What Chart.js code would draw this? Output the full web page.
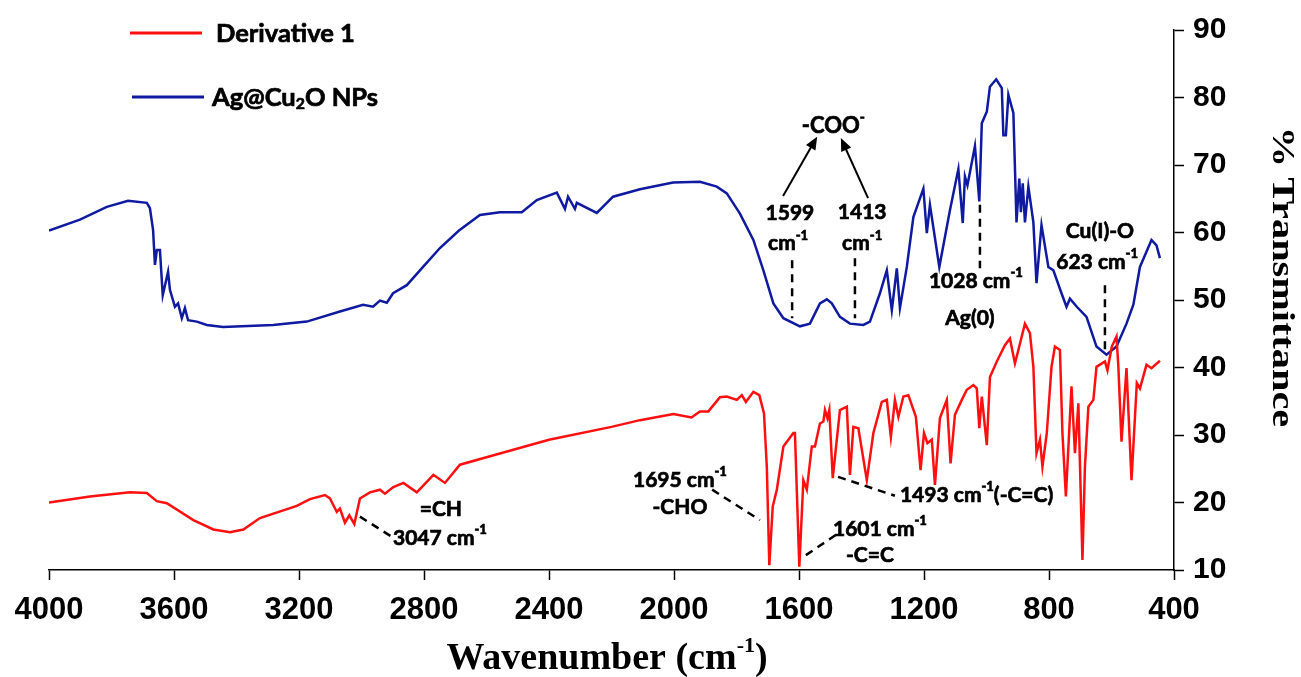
<!DOCTYPE html>
<html>
<head>
<meta charset="utf-8">
<script src="https://cdn.jsdelivr.net/npm/chart.js@4.4.1/dist/chart.umd.min.js"></script>
<style>
  html, body { margin: 0; padding: 0; background: #fff; }
  #wrap { width: 1301px; height: 677px; }
</style>
</head>
<body>
<div id="wrap"><canvas id="ftir" width="1301" height="677"></canvas></div>
<script>
// FTIR spectra, wavenumber (cm-1) vs % transmittance
const agWavenumber = [4000, 3901, 3815, 3747, 3687, 3677, 3667, 3661, 3655, 3645, 3636, 3619, 3613, 3597, 3587, 3575, 3565, 3555, 3527, 3495,
  3443, 3283, 3175, 3069, 2995, 2963, 2941, 2919, 2899, 2855, 2803, 2749, 2688, 2621, 2557, 2487, 2439, 2375, 2349, 2339,
  2317, 2311, 2247, 2195, 2109, 2003, 1917, 1863, 1831, 1789, 1746, 1714, 1682, 1650, 1597, 1565, 1533, 1511, 1495, 1469,
  1437, 1394, 1373, 1341, 1319, 1303, 1287, 1277, 1255, 1234, 1202, 1191, 1181, 1151, 1117, 1090, 1076, 1069, 1061, 1037,
  1023, 1015, 999, 989, 969, 951, 946, 938, 930, 914, 904, 895, 890, 884, 877, 866, 850, 840, 824, 802,
  786, 760, 744, 733, 711, 680, 648, 616, 584, 552, 530, 509, 472, 456, 445];
const agTransmittance = [60.3, 61.9, 63.8, 64.7, 64.4, 63.6, 60.4, 55.2, 57.4, 57.4, 50.7, 54.2, 51.5, 49.0, 49.5, 47.3, 48.8, 47.0, 46.8, 46.3,
  46.0, 46.3, 46.8, 48.3, 49.3, 49.0, 49.9, 49.6, 51.0, 52.2, 54.9, 57.7, 60.3, 62.6, 63.0, 63.0, 64.8, 65.9, 63.5, 65.3,
  63.5, 64.4, 62.9, 65.3, 66.4, 67.4, 67.5, 66.8, 65.8, 62.8, 58.9, 54.4, 49.5, 47.3, 46.1, 46.5, 49.5, 50.1, 49.5, 47.5,
  46.5, 46.3, 46.8, 51.0, 54.4, 48.5, 54.7, 48.8, 54.9, 62.3, 66.5, 59.9, 64.1, 54.9, 63.3, 69.4, 61.4, 68.3, 67.0, 72.8,
  64.6, 76.2, 77.9, 81.6, 82.7, 81.4, 74.4, 74.4, 80.4, 77.7, 61.5, 68.0, 63.0, 67.3, 61.5, 66.8, 61.5, 52.5, 61.1, 54.9,
  54.4, 51.0, 49.0, 50.2, 49.0, 47.5, 43.1, 41.9, 43.1, 46.5, 49.3, 54.9, 58.9, 58.1, 56.2];

const derivWavenumber = [4000, 3869, 3741, 3687, 3655, 3623, 3538, 3474, 3421, 3378, 3325, 3207, 3165, 3117, 3101, 3079, 3069, 3053, 3039, 3023,
  3005, 2973, 2941, 2925, 2898, 2866, 2823, 2770, 2733, 2685, 2600, 2400, 2200, 2109, 2002, 1944, 1917, 1890, 1853, 1831,
  1799, 1783, 1770, 1746, 1727, 1712, 1703, 1695, 1684, 1671, 1650, 1618, 1613, 1599, 1586, 1575, 1559, 1549, 1533, 1522,
  1517, 1509, 1503, 1492, 1469, 1447, 1437, 1426, 1410, 1383, 1362, 1335, 1319, 1306, 1293, 1282, 1266, 1250, 1226, 1211,
  1200, 1189, 1175, 1165, 1149, 1127, 1115, 1101, 1079, 1063, 1042, 1031, 1023, 1015, 999, 989, 967, 941, 925, 909,
  898, 877, 861, 850, 840, 829, 821, 807, 792, 781, 765, 757, 746, 728, 717, 706, 693, 685, 674, 658,
  648, 621, 613, 599, 584, 578, 568, 552, 536, 519, 509, 488, 472, 445];
const derivTransmittance = [20.0, 20.9, 21.5, 21.4, 20.2, 19.9, 17.4, 16.0, 15.6, 16.0, 17.7, 19.5, 20.5, 21.1, 20.6, 18.6, 19.1, 17.0, 18.1, 16.8,
  20.6, 21.5, 21.9, 21.3, 22.3, 22.9, 21.5, 24.1, 22.9, 25.6, 26.7, 29.3, 31.2, 32.2, 33.1, 32.6, 33.5, 33.5, 35.6, 35.7,
  35.2, 35.9, 34.9, 36.4, 35.9, 33.2, 25.3, 10.7, 19.4, 21.9, 28.3, 30.3, 30.3, 10.5, 23.3, 21.9, 28.3, 28.3, 31.7, 32.0,
  33.7, 32.5, 33.7, 23.6, 33.7, 34.2, 24.1, 31.2, 31.0, 23.3, 30.3, 34.9, 35.2, 29.7, 35.2, 32.7, 35.7, 35.9, 32.7, 24.8,
  30.3, 28.8, 29.3, 22.6, 32.5, 35.2, 25.8, 33.0, 35.2, 36.7, 37.4, 36.9, 31.0, 35.7, 28.5, 38.6, 40.9, 43.3, 44.3, 40.6,
  42.6, 46.5, 45.1, 40.1, 27.3, 29.3, 25.3, 30.3, 40.1, 43.1, 42.6, 30.3, 20.9, 37.2, 27.3, 34.7, 11.5, 25.3, 34.2, 35.2,
  40.1, 40.9, 39.6, 43.1, 44.6, 40.1, 29.0, 39.9, 23.3, 37.7, 36.9, 40.4, 39.9, 41.0];

const seriesNames = ['Derivative 1', 'Ag@Cu₂O NPs'];
const xTicks = [4000, 3600, 3200, 2800, 2400, 2000, 1600, 1200, 800, 400];
const yTicks = [10, 20, 30, 40, 50, 60, 70, 80, 90];

// peak labels, placed in data units (wavenumber, %T); parts: [text, 'sup'|'sub'|undefined]
const peakLabels = [
  { x: 1490, y: 75.8, parts: [['-COO'], ['-', 'sup']], size: 22 },
  { x: 1629, y: 62.9, parts: [['1599']] },
  { x: 1635, y: 58.4, parts: [['cm'], ['-1', 'sup']] },
  { x: 1398, y: 63.0, parts: [['1413']] },
  { x: 1398, y: 58.4, parts: [['cm'], ['-1', 'sup']] },
  { x: 1034, y: 52.8, parts: [['1028 cm'], ['-1', 'sup']] },
  { x: 1053, y: 47.3, parts: [['Ag(0)']] },
  { x: 637, y: 60.2, parts: [['Cu(I)-O']] },
  { x: 646, y: 55.6, parts: [['623 cm'], ['-1', 'sup']] },
  { x: 2746, y: 19.0, parts: [['=CH']] },
  { x: 2749, y: 14.7, parts: [['3047 cm'], ['-1', 'sup']] },
  { x: 1981, y: 23.3, parts: [['1695 cm'], ['-1', 'sup']] },
  { x: 1981, y: 19.3, parts: [['-CHO']] },
  { x: 1341, y: 16.1, parts: [['1601 cm'], ['-1', 'sup']] },
  { x: 1373, y: 12.2, parts: [['-C=C']] },
  { x: 1277, y: 21.1, parts: [['1493 cm'], ['-1', 'sup'], ['(-C=C)']], align: 'left' }
];
// dashed leader lines [x1, y1, x2, y2] in data units
const leaders = [
  [1622, 55.9, 1622, 47.3], [1421, 56.2, 1421, 47.3], [1021, 64.1, 1021, 54.7], [621, 52.2, 621, 42.6],
  [3005, 17.9, 2902, 14.9], [1878, 21.9, 1725, 17.4], [1578, 12.2, 1482, 15.2], [1475, 23.8, 1293, 21.0]
];
const arrows = [[1651, 65.4, 1542, 74.2], [1379, 65.1, 1466, 74.0]];

const toPoints = (xs, ys) => xs.map((x, i) => ({ x: x, y: ys[i] }));

const labelFont = '"Lato", "Open Sans", sans-serif';
const serif = '"Liberation Serif", "Times New Roman", serif';

function drawRich(ctx, parts, x, y, size, align) {
  const widths = parts.map(p => {
    const s = p[1] ? size * 0.62 : size;
    ctx.font = 'bold ' + s + 'px ' + labelFont;
    return ctx.measureText(p[0]).width;
  });
  const total = widths.reduce((a, b) => a + b, 0);
  let cx = align === 'left' ? x : x - total / 2;
  ctx.textAlign = 'left';
  ctx.textBaseline = 'middle';
  ctx.lineWidth = 0.7;
  ctx.strokeStyle = ctx.fillStyle;
  parts.forEach((p, i) => {
    const s = p[1] ? size * 0.62 : size;
    let dy = 0;
    if (p[1] === 'sup') dy = -size * 0.38;
    if (p[1] === 'sub') dy = size * 0.22;
    ctx.font = 'bold ' + s + 'px ' + labelFont;
    ctx.fillText(p[0], cx, y + dy);
    ctx.strokeText(p[0], cx, y + dy); // thicken a little, the original uses a heavy bold face
    cx += widths[i];
  });
}

const annotationPlugin = {
  id: 'ftirNotes',
  afterDatasetsDraw(chart) {
    const ctx = chart.ctx;
    const xs = chart.scales.x, ys = chart.scales.y;
    const px = v => xs.getPixelForValue(v), py = v => ys.getPixelForValue(v);
    ctx.save();
    ctx.fillStyle = '#000';
    ctx.strokeStyle = '#000';

    // dashed leaders
    ctx.lineWidth = 2.5;
    ctx.setLineDash([8, 6]);
    leaders.forEach(l => {
      ctx.beginPath();
      ctx.moveTo(px(l[0]), py(l[1]));
      ctx.lineTo(px(l[2]), py(l[3]));
      ctx.stroke();
    });
    ctx.setLineDash([]);

    // arrows to -COO-
    ctx.lineWidth = 2;
    arrows.forEach(a => {
      const x1 = px(a[0]), y1 = py(a[1]), x2 = px(a[2]), y2 = py(a[3]);
      const ang = Math.atan2(y2 - y1, x2 - x1);
      ctx.beginPath();
      ctx.moveTo(x1, y1);
      ctx.lineTo(x2 - 6 * Math.cos(ang), y2 - 6 * Math.sin(ang));
      ctx.stroke();
      ctx.beginPath();
      ctx.moveTo(x2, y2);
      ctx.lineTo(x2 - 14 * Math.cos(ang - 0.4), y2 - 14 * Math.sin(ang - 0.4));
      ctx.lineTo(x2 - 14 * Math.cos(ang + 0.4), y2 - 14 * Math.sin(ang + 0.4));
      ctx.closePath();
      ctx.fill();
    });

    peakLabels.forEach(l => drawRich(ctx, l.parts, px(l.x), py(l.y), l.size || 21, l.align));

    // legend
    const legendRows = [
      { y: 33, label: [['Derivative 1']], ds: 0, x0: 130, tx: 216 },
      { y: 97, label: [['Ag@Cu'], ['2', 'sub'], ['O NPs']], ds: 1, x0: 132, tx: 212 }
    ];
    legendRows.forEach(r => {
      ctx.strokeStyle = chart.data.datasets[r.ds].borderColor;
      ctx.lineWidth = 3;
      ctx.beginPath();
      ctx.moveTo(r.x0, r.y);
      ctx.lineTo(r.x0 + 72, r.y);
      ctx.stroke();
      ctx.fillStyle = '#000';
      drawRich(ctx, r.label, r.tx, r.y + 1, 25.5, 'left');
    });

    // x-axis title with superscript
    ctx.fillStyle = '#000';
    ctx.textBaseline = 'alphabetic';
    ctx.textAlign = 'left';
    const main = 'Wavenumber (cm', sup = '-1', end = ')';
    ctx.font = 'bold 38px ' + serif;
    const w1 = ctx.measureText(main).width, w3 = ctx.measureText(end).width;
    ctx.font = 'bold 22px ' + serif;
    const w2 = ctx.measureText(sup).width;
    let tx = 607 - (w1 + w2 + w3) / 2;
    const ty = 669;
    ctx.font = 'bold 38px ' + serif;
    ctx.fillText(main, tx, ty);
    ctx.font = 'bold 22px ' + serif;
    ctx.fillText(sup, tx + w1, ty - 17);
    ctx.font = 'bold 38px ' + serif;
    ctx.fillText(end, tx + w1 + w2, ty);

    // y-axis title, stretched along its length like the original figure
    ctx.save();
    ctx.translate(1281, 277);
    ctx.rotate(Math.PI / 2);
    ctx.scale(1.3, 1);
    ctx.font = 'bold 31px ' + serif;
    ctx.textAlign = 'center';
    ctx.textBaseline = 'middle';
    ctx.fillText('% Transmittance', 0, 0);
    ctx.restore();
    ctx.restore();
  }
};

new Chart(document.getElementById('ftir').getContext('2d'), {
  type: 'line',
  data: {
    datasets: [
      {
        label: seriesNames[0],
        data: toPoints(derivWavenumber, derivTransmittance),
        borderColor: '#ff1010',
        borderWidth: 2.5,
        pointRadius: 0,
        tension: 0,
        fill: false
      },
      {
        label: seriesNames[1],
        data: toPoints(agWavenumber, agTransmittance),
        borderColor: '#0f1aa0',
        borderWidth: 2.5,
        pointRadius: 0,
        tension: 0,
        fill: false
      }
    ]
  },
  options: {
    responsive: false,
    animation: false,
    layout: { padding: { left: 49, top: 30, right: 0, bottom: 0 } },
    plugins: { legend: { display: false }, tooltip: { enabled: false } },
    scales: {
      x: {
        type: 'linear',
        reverse: true,
        min: 400,
        max: 4000,
        afterBuildTicks: scale => { scale.ticks = xTicks.map(v => ({ value: v })); },
        afterFit: scale => { scale.height = 107; },
        grid: { drawOnChartArea: false, drawTicks: true, tickLength: 10, color: '#000', tickWidth: 1.5 },
        border: { display: true, color: '#000', width: 1.5 },
        ticks: {
          color: '#000',
          padding: 12,
          maxRotation: 0,
          autoSkip: false,
          callback: v => String(v),
          font: { family: '"Liberation Sans", Arial, sans-serif', size: 31, weight: 'bold' }
        },
        title: { display: false }
      },
      y: {
        position: 'right',
        min: 10,
        max: 90,
        afterBuildTicks: scale => { scale.ticks = yTicks.map(v => ({ value: v })); },
        afterFit: scale => { scale.width = 127; },
        grid: { drawOnChartArea: false, drawTicks: true, tickLength: 10, color: '#000', tickWidth: 1.5 },
        border: { display: true, color: '#000', width: 1.5 },
        ticks: {
          color: '#000',
          padding: 9,
          callback: v => String(v),
          font: { family: '"Liberation Sans", Arial, sans-serif', size: 30, weight: 'bold' }
        },
        title: { display: false }
      }
    }
  },
  plugins: [annotationPlugin]
});
</script>
</body>
</html>
